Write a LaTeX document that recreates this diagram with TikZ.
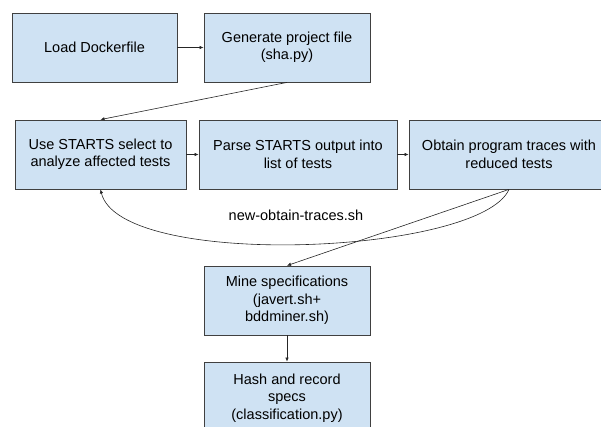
\documentclass[tikz,border=0pt]{standalone}
\usepackage{fontspec}
\setmainfont{Liberation Sans}
\usetikzlibrary{arrows.meta}
\definecolor{boxblue}{HTML}{CFE2F3}
\definecolor{boxline}{HTML}{404040}
\begin{document}
\begin{tikzpicture}[
  x=1pt, y=-1pt,
  stage/.style={rectangle, draw=boxline, line width=0.8pt, fill=boxblue, minimum height=69pt, inner sep=2pt, align=center, font=\fontsize{14.5}{17.5}\selectfont},
  note/.style={font=\fontsize{14.5}{17.5}\selectfont},
  flow/.style={-{Latex[length=4pt,width=3.5pt]}, line width=0.6pt, black!85},
]
  \useasboundingbox (0,0) rectangle (601,427);
  \clip (0,0) rectangle (601,427);

  \node[stage, minimum width=165pt] (load) at (94.5, 47.5) {Load Dockerfile};
  \node[stage, minimum width=166pt] (gen) at (287, 47.5) {Generate project file\\(sha.py)};
  \node[stage, minimum width=171pt] (use) at (100.5, 154.5) {Use STARTS select to\\analyze affected tests};
  \node[stage, minimum width=198pt] (parse) at (298, 154.5) {Parse STARTS output into\\list of tests};
  \node[stage, minimum width=200pt] (obtain) at (509, 154.5) {Obtain program traces with\\reduced tests};
  \node[stage, minimum width=166pt] (mine) at (287, 300.5) {Mine specifications\\(javert.sh+\\bddminer.sh)};
  \node[stage, minimum width=166pt, minimum height=72pt] (hash) at (287, 398) {Hash and record\\specs\\(classification.py)};
  \node[note] (loop) at (296, 215) {new-obtain-traces.sh};

  \draw[flow] (load) -- (gen);
  \draw[flow] (gen.south) -- (use.north);
  \draw[flow] (use) -- (parse);
  \draw[flow] (parse) -- (obtain);
  \draw[flow] (obtain.south) .. controls (480,255) and (120,270) .. (use.south);
  \draw[flow] (obtain.south) -- (mine.north);
  \draw[flow] (mine) -- (hash);
\end{tikzpicture}
\end{document}
